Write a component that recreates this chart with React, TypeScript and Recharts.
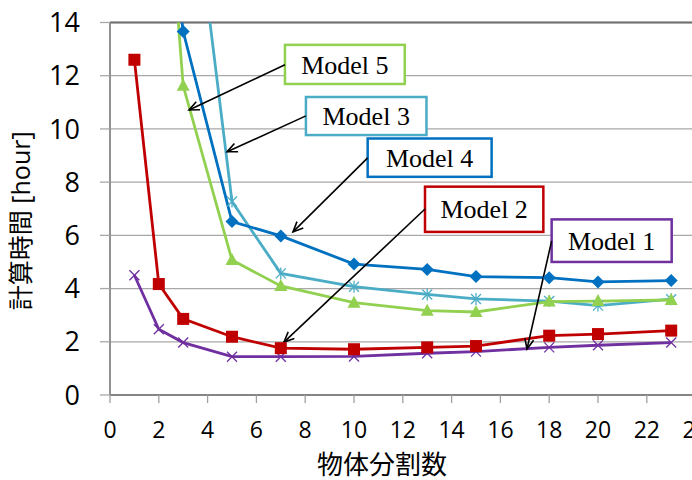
import React from 'react';
import {
  LineChart,
  Line,
  XAxis,
  YAxis,
  CartesianGrid,
  ReferenceArea,
  ReferenceLine,
} from 'recharts';

// Number of object divisions (x) and computation time in hours per model.
const divisions = [1, 2, 3, 5, 7, 10, 13, 15, 18, 20, 23];
const model1 = [4.5, 2.47, 1.97, 1.44, 1.44, 1.45, 1.57, 1.63, 1.79, 1.87, 1.97];
const model2 = [12.6, 4.17, 2.86, 2.19, 1.76, 1.72, 1.79, 1.84, 2.23, 2.29, 2.42];
const model3 = [null, null, 22.2, 7.27, 4.57, 4.07, 3.78, 3.61, 3.53, 3.36, 3.6];
const model4 = [null, 21, 13.66, 6.52, 5.98, 4.92, 4.72, 4.45, 4.41, 4.25, 4.3];
const model5 = [null, 23.5, 11.62, 5.07, 4.1, 3.47, 3.17, 3.12, 3.51, 3.53, 3.57];

const xTicks = [0, 2, 4, 6, 8, 10, 12, 14, 16, 18, 20, 22, 24];
const yTicks = [0, 2, 4, 6, 8, 10, 12, 14];

const COLORS = {
  m1: '#7030A0',
  m2: '#C00000',
  m3: '#4BACC6',
  m4: '#0070C0',
  m5: '#92D050',
};

// Callout boxes (data-space rectangles) and the arrows pointing from them to a curve.
const callouts = [
  { name: 'Model 5', color: COLORS.m5, box: [7.17, 12.08, 11.69, 13.16], tail: [7.17, 12.41], head: [3.24, 10.71] },
  { name: 'Model 3', color: COLORS.m3, box: [8.03, 12.97, 9.77, 11.2], tail: [8.03, 10.49], head: [4.8, 9.14] },
  { name: 'Model 4', color: COLORS.m4, box: [10.56, 15.64, 8.2, 9.64], tail: [10.56, 8.91], head: [7.5, 6.13] },
  { name: 'Model 2', color: COLORS.m2, box: [12.91, 17.76, 6.13, 7.83], tail: [12.91, 6.99], head: [7.13, 1.99] },
  { name: 'Model 1', color: COLORS.m1, box: [18.1, 23.02, 5.0, 6.6], tail: [18.1, 5.79], head: [17.09, 1.73] },
];

const rows = divisions.map((x, i) => ({
  x,
  m1: model1[i],
  m2: model2[i],
  m3: model3[i],
  m4: model4[i],
  m5: model5[i],
}));

const empty = (p: any) => p.cx == null || p.cy == null || p.value == null;

const crossDot = (color: string) => (p: any) =>
  empty(p) ? (
    <g key={`c-${p.index}`} />
  ) : (
    <g key={`c-${p.index}`} stroke={color} strokeWidth={1.3}>
      <line x1={p.cx - 5} y1={p.cy - 5} x2={p.cx + 5} y2={p.cy + 5} />
      <line x1={p.cx - 5} y1={p.cy + 5} x2={p.cx + 5} y2={p.cy - 5} />
    </g>
  );

const starDot = (color: string) => (p: any) =>
  empty(p) ? (
    <g key={`s-${p.index}`} />
  ) : (
    <g key={`s-${p.index}`} stroke={color} strokeWidth={1.3}>
      <line x1={p.cx - 5} y1={p.cy - 5} x2={p.cx + 5} y2={p.cy + 5} />
      <line x1={p.cx - 5} y1={p.cy + 5} x2={p.cx + 5} y2={p.cy - 5} />
      <line x1={p.cx} y1={p.cy - 6} x2={p.cx} y2={p.cy + 6} />
    </g>
  );

const squareDot = (color: string) => (p: any) =>
  empty(p) ? (
    <g key={`q-${p.index}`} />
  ) : (
    <rect key={`q-${p.index}`} x={p.cx - 6} y={p.cy - 6} width={12} height={12} fill={color} />
  );

const diamondDot = (color: string) => (p: any) =>
  empty(p) ? (
    <g key={`d-${p.index}`} />
  ) : (
    <path
      key={`d-${p.index}`}
      d={`M${p.cx},${p.cy - 6.5}L${p.cx + 6.5},${p.cy}L${p.cx},${p.cy + 6.5}L${p.cx - 6.5},${p.cy}Z`}
      fill={color}
    />
  );

const triangleDot = (color: string) => (p: any) =>
  empty(p) ? (
    <g key={`t-${p.index}`} />
  ) : (
    <path
      key={`t-${p.index}`}
      d={`M${p.cx},${p.cy - 7}L${p.cx + 6.5},${p.cy + 5}L${p.cx - 6.5},${p.cy + 5}Z`}
      fill={color}
    />
  );

const arrowShape = (p: any) => {
  const { x1, y1, x2, y2 } = p;
  const ang = Math.atan2(y2 - y1, x2 - x1);
  const len = 11;
  const spread = 0.42;
  const ax = x2 - len * Math.cos(ang - spread);
  const ay = y2 - len * Math.sin(ang - spread);
  const bx = x2 - len * Math.cos(ang + spread);
  const by = y2 - len * Math.sin(ang + spread);
  return (
    <g stroke="#000" strokeWidth={1.6} fill="none">
      <line x1={x1} y1={y1} x2={x2} y2={y2} />
      <polyline points={`${ax},${ay} ${x2},${y2} ${bx},${by}`} />
    </g>
  );
};

const boxShape = (text: string, color: string) => (p: any) => (
  <g>
    <rect x={p.x} y={p.y} width={p.width} height={p.height} fill="#fff" stroke={color} strokeWidth={2.5} />
    <text
      x={p.x + p.width / 2}
      y={p.y + p.height / 2}
      dy="0.35em"
      textAnchor="middle"
      fontFamily="'Liberation Serif', 'Times New Roman', serif"
      fontSize={26}
      fill="#000"
    >
      {text}
    </text>
  </g>
);

const yTitle = (p: any) => {
  const vb = p.viewBox;
  const cx = vb.x + 21;
  const cy = vb.y + vb.height / 2 + 12;
  return (
    <text
      x={cx}
      y={cy}
      transform={`rotate(-90, ${cx}, ${cy})`}
      textAnchor="middle"
      dy="0.36em"
      fontFamily="'Open Sans', 'Noto Sans CJK JP', sans-serif"
      fontSize={25}
      fill="#000"
    >
      計算時間 [hour]
    </text>
  );
};

const xTitle = (p: any) => {
  const vb = p.viewBox;
  return (
    <text
      x={vb.x + 272}
      y={vb.y + 79}
      textAnchor="middle"
      fontFamily="'Noto Sans CJK JP', sans-serif"
      fontSize={26}
      fill="#000"
    >
      物体分割数
    </text>
  );
};

export default function App() {
  return (
    <div
      style={{
        position: 'absolute',
        left: 0,
        top: 0,
        width: 692,
        height: 480,
        overflow: 'hidden',
        background: '#fff',
      }}
    >
      <LineChart
        width={720}
        height={480}
        data={rows}
        margin={{ top: 22.5, right: 24.4, left: 0, bottom: 0 }}
      >
        <CartesianGrid horizontal vertical={false} stroke="#A8A8A8" strokeWidth={1.3} />
        <XAxis
          dataKey="x"
          type="number"
          domain={[0, 24]}
          ticks={xTicks}
          interval={0}
          height={85}
          tickSize={8}
          tickMargin={19}
          axisLine={{ stroke: '#858585', strokeWidth: 1.8 }}
          tickLine={{ stroke: '#A0A0A0', strokeWidth: 1.3 }}
          tick={{ fontSize: 23, fill: '#000', fontFamily: "'Open Sans', sans-serif" }}
          label={{ content: xTitle }}
        />
        <YAxis
          type="number"
          domain={[0, 14]}
          allowDataOverflow
          ticks={yTicks}
          interval={0}
          width={110}
          tickSize={10}
          tickMargin={20}
          axisLine={{ stroke: '#858585', strokeWidth: 1.8 }}
          tickLine={{ stroke: '#A8A8A8', strokeWidth: 1.3 }}
          tick={{ fontSize: 27, fill: '#000', fontFamily: "'Open Sans', sans-serif" }}
          label={{ content: yTitle }}
        />
        <ReferenceLine y={14} stroke="#707070" strokeWidth={1.8} ifOverflow="visible" />

        <Line dataKey="m1" stroke={COLORS.m1} strokeWidth={2.8} dot={crossDot(COLORS.m1)} isAnimationActive={false} />
        <Line dataKey="m2" stroke={COLORS.m2} strokeWidth={2.8} dot={squareDot(COLORS.m2)} isAnimationActive={false} />
        <Line dataKey="m3" stroke={COLORS.m3} strokeWidth={2.8} dot={starDot(COLORS.m3)} isAnimationActive={false} />
        <Line dataKey="m5" stroke={COLORS.m5} strokeWidth={2.8} dot={triangleDot(COLORS.m5)} isAnimationActive={false} />
        <Line dataKey="m4" stroke={COLORS.m4} strokeWidth={2.8} dot={diamondDot(COLORS.m4)} isAnimationActive={false} />

        {callouts.map((c) => (
          <ReferenceLine
            key={`arrow-${c.name}`}
            segment={[
              { x: c.tail[0], y: c.tail[1] },
              { x: c.head[0], y: c.head[1] },
            ]}
            ifOverflow="visible"
            shape={arrowShape}
          />
        ))}
        {callouts.map((c) => (
          <ReferenceArea
            key={`box-${c.name}`}
            x1={c.box[0]}
            x2={c.box[1]}
            y1={c.box[2]}
            y2={c.box[3]}
            ifOverflow="visible"
            shape={boxShape(c.name, c.color)}
          />
        ))}
      </LineChart>
    </div>
  );
}
